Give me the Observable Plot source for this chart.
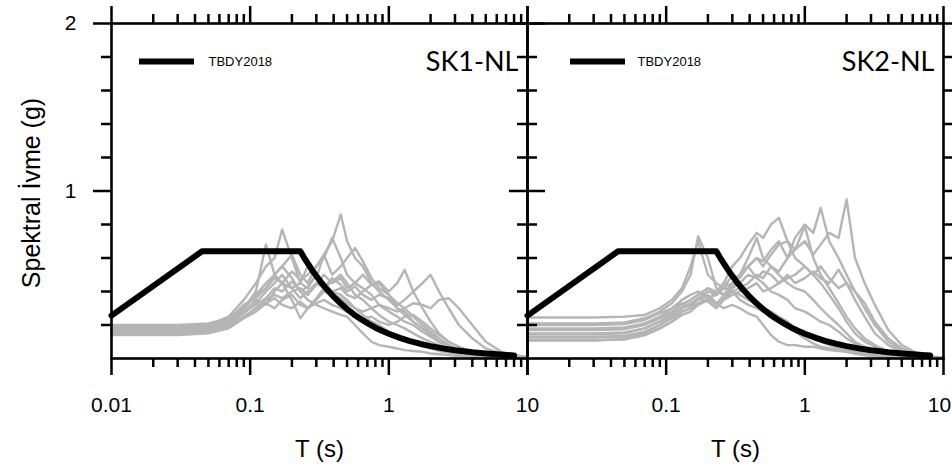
<!DOCTYPE html>
<html><head><meta charset="utf-8">
<script src="https://cdn.jsdelivr.net/npm/d3@7"></script>
<script src="https://cdn.jsdelivr.net/npm/@observablehq/plot@0.6"></script>
<style>body{margin:0;background:#fff;}</style>
</head><body><div id="chart"></div>
<script>
const panels = ["SK1-NL", "SK2-NL"];
const periods = [0.01,0.03,0.05,0.07,0.09,0.11,0.13,0.15,0.17,0.2,0.23,0.26,0.3,0.34,0.39,0.45,0.5,0.57,0.65,0.75,0.85,1,1.15,1.3,1.5,1.75,2,2.3,2.7,3.2,4,5,6.5,8,10];

const sk1Records = [
  [0.17,0.17,0.18,0.22,0.3,0.38,0.42,0.48,0.45,0.52,0.47,0.5,0.55,0.62,0.7,0.86,0.7,0.6,0.55,0.45,0.4,0.35,0.3,0.28,0.22,0.18,0.15,0.1,0.07,0.05,0.03,0.02,0.01,0.01,0.005],
  [0.19,0.19,0.2,0.25,0.35,0.45,0.55,0.6,0.77,0.6,0.45,0.42,0.5,0.45,0.4,0.38,0.35,0.3,0.26,0.22,0.2,0.16,0.13,0.11,0.09,0.07,0.06,0.045,0.035,0.025,0.015,0.01,0.007,0.005,0.004],
  [0.16,0.16,0.17,0.2,0.27,0.33,0.4,0.45,0.5,0.42,0.45,0.55,0.48,0.62,0.5,0.55,0.6,0.66,0.58,0.48,0.42,0.38,0.33,0.3,0.25,0.2,0.16,0.12,0.08,0.05,0.03,0.02,0.01,0.007,0.005],
  [0.15,0.15,0.16,0.19,0.25,0.3,0.35,0.38,0.36,0.4,0.42,0.38,0.44,0.5,0.45,0.48,0.42,0.45,0.5,0.44,0.46,0.4,0.45,0.53,0.4,0.3,0.22,0.15,0.1,0.07,0.04,0.025,0.015,0.01,0.006],
  [0.18,0.18,0.19,0.22,0.28,0.35,0.32,0.4,0.45,0.42,0.36,0.4,0.45,0.42,0.48,0.44,0.4,0.43,0.38,0.35,0.38,0.36,0.32,0.35,0.4,0.45,0.5,0.4,0.3,0.2,0.12,0.06,0.03,0.02,0.01],
  [0.14,0.14,0.15,0.18,0.24,0.28,0.33,0.3,0.35,0.38,0.32,0.3,0.35,0.4,0.38,0.36,0.33,0.3,0.28,0.3,0.32,0.3,0.28,0.3,0.33,0.32,0.3,0.35,0.36,0.3,0.2,0.1,0.04,0.02,0.01],
  [0.2,0.2,0.21,0.24,0.3,0.38,0.45,0.5,0.55,0.48,0.4,0.35,0.32,0.3,0.28,0.26,0.25,0.2,0.15,0.1,0.08,0.07,0.06,0.05,0.045,0.04,0.03,0.025,0.02,0.015,0.01,0.007,0.005,0.004,0.003],
  [0.16,0.16,0.17,0.21,0.3,0.4,0.68,0.5,0.45,0.35,0.24,0.3,0.36,0.42,0.46,0.5,0.45,0.38,0.35,0.3,0.26,0.22,0.2,0.18,0.15,0.12,0.1,0.08,0.06,0.04,0.025,0.015,0.01,0.007,0.005],
  [0.18,0.18,0.19,0.23,0.32,0.36,0.42,0.5,0.55,0.62,0.5,0.45,0.55,0.6,0.72,0.6,0.5,0.45,0.42,0.38,0.32,0.28,0.25,0.22,0.2,0.16,0.13,0.1,0.07,0.05,0.03,0.02,0.01,0.008,0.005],
  [0.17,0.17,0.18,0.21,0.28,0.32,0.36,0.42,0.4,0.46,0.4,0.43,0.5,0.45,0.4,0.42,0.38,0.36,0.4,0.44,0.45,0.38,0.3,0.26,0.22,0.18,0.14,0.1,0.08,0.05,0.03,0.02,0.012,0.008,0.005],
  [0.15,0.15,0.16,0.19,0.25,0.3,0.33,0.36,0.32,0.3,0.34,0.3,0.33,0.35,0.32,0.3,0.28,0.26,0.24,0.25,0.22,0.2,0.22,0.25,0.26,0.22,0.18,0.14,0.1,0.07,0.04,0.025,0.015,0.01,0.006]
];

const sk2Records = [
  [0.125,0.125,0.13,0.15,0.2,0.25,0.3,0.32,0.35,0.38,0.33,0.36,0.4,0.42,0.45,0.5,0.48,0.55,0.52,0.6,0.65,0.7,0.62,0.68,0.75,0.72,0.95,0.6,0.45,0.32,0.17,0.08,0.03,0.012,0.006],
  [0.107,0.107,0.115,0.14,0.18,0.22,0.28,0.3,0.33,0.36,0.32,0.38,0.42,0.5,0.55,0.6,0.58,0.65,0.7,0.6,0.72,0.8,0.75,0.9,0.7,0.6,0.5,0.4,0.3,0.2,0.1,0.05,0.02,0.01,0.005],
  [0.15,0.15,0.155,0.18,0.22,0.27,0.32,0.35,0.38,0.42,0.38,0.45,0.55,0.6,0.68,0.75,0.72,0.8,0.84,0.7,0.6,0.55,0.5,0.45,0.38,0.3,0.22,0.15,0.1,0.07,0.04,0.02,0.01,0.007,0.004],
  [0.21,0.21,0.215,0.24,0.28,0.33,0.4,0.5,0.73,0.6,0.42,0.38,0.4,0.35,0.32,0.3,0.28,0.26,0.25,0.22,0.18,0.15,0.12,0.1,0.08,0.06,0.05,0.04,0.03,0.02,0.012,0.008,0.005,0.004,0.003],
  [0.245,0.245,0.25,0.26,0.3,0.35,0.42,0.55,0.7,0.5,0.45,0.42,0.45,0.5,0.55,0.48,0.45,0.4,0.38,0.35,0.3,0.28,0.25,0.22,0.2,0.16,0.12,0.09,0.06,0.04,0.025,0.015,0.01,0.006,0.004],
  [0.18,0.18,0.185,0.21,0.25,0.3,0.33,0.3,0.36,0.4,0.38,0.42,0.5,0.48,0.55,0.6,0.55,0.62,0.68,0.7,0.65,0.79,0.6,0.5,0.42,0.33,0.25,0.18,0.12,0.08,0.04,0.02,0.01,0.007,0.004],
  [0.13,0.13,0.135,0.16,0.2,0.24,0.28,0.3,0.32,0.35,0.4,0.38,0.45,0.5,0.6,0.72,0.6,0.55,0.5,0.45,0.42,0.4,0.35,0.3,0.25,0.2,0.15,0.1,0.07,0.05,0.03,0.015,0.008,0.005,0.003],
  [0.145,0.145,0.15,0.18,0.22,0.26,0.3,0.33,0.36,0.34,0.3,0.35,0.38,0.4,0.42,0.45,0.4,0.42,0.45,0.5,0.45,0.48,0.52,0.48,0.45,0.53,0.45,0.4,0.33,0.22,0.12,0.06,0.025,0.012,0.006],
  [0.11,0.11,0.115,0.14,0.18,0.22,0.26,0.28,0.32,0.35,0.33,0.3,0.32,0.3,0.27,0.25,0.2,0.14,0.1,0.08,0.08,0.07,0.07,0.06,0.05,0.045,0.04,0.03,0.02,0.015,0.01,0.006,0.004,0.003,0.002],
  [0.2,0.2,0.205,0.23,0.27,0.3,0.35,0.38,0.4,0.36,0.38,0.42,0.4,0.38,0.35,0.32,0.3,0.28,0.25,0.2,0.16,0.12,0.09,0.07,0.06,0.05,0.04,0.03,0.02,0.015,0.01,0.006,0.004,0.003,0.002],
  [0.17,0.17,0.175,0.2,0.24,0.28,0.32,0.35,0.38,0.42,0.4,0.45,0.42,0.45,0.5,0.48,0.52,0.5,0.45,0.48,0.5,0.55,0.5,0.55,0.48,0.42,0.45,0.35,0.25,0.15,0.08,0.04,0.02,0.01,0.005]
];

const designT  = [0.01,0.045,0.23,0.25,0.28,0.32,0.36,0.4,0.45,0.5,0.56,0.63,0.71,0.8,0.9,1,1.2,1.4,1.7,2,2.5,3,4,5,6,7,8];
const designSa = [0.256,0.64,0.64,0.59,0.527,0.461,0.41,0.369,0.328,0.295,0.263,0.234,0.208,0.184,0.164,0.148,0.123,0.105,0.087,0.074,0.059,0.049,0.037,0.03,0.025,0.021,0.018];

const legendLabel = "TBDY2018";
const xTickValues = [0.01, 0.1, 1, 10];
const xTickLabels = ["0.01", "0.1", "1", "10"];
const yMajorTicks = [1, 2];
const yTickLabels = ["1", "2"];
const yMinorTicks = [0.2, 0.4, 0.6, 0.8, 1.2, 1.4, 1.6, 1.8];
const xTitle = "T (s)";
const yTitle = "Spektral İvme (g)";

// tables
const records = [];
[sk1Records, sk2Records].forEach((set, p) => {
  set.forEach((vals, i) => {
    vals.forEach((v, j) => records.push({panel: panels[p], rec: panels[p] + "-" + i, T: periods[j], Sa: v}));
  });
});
const design = panels.flatMap(panel => designT.map((t, i) => ({panel, T: t, Sa: designSa[i]})));
const xLabelRows = panels.flatMap((panel, p) =>
  xTickValues.map((t, i) => ({panel, T: t, label: xTickLabels[i]})).filter(d => !(p > 0 && d.T === 0.01)));
const xLabelMain = xLabelRows.filter(d => !(d.panel === panels[1] && d.T === 10));
const xLabelEdge = xLabelRows.filter(d => d.panel === panels[1] && d.T === 10);
const yLabelRows = yMajorTicks.map((v, i) => ({panel: panels[0], v, label: yTickLabels[i]}));
const xMinor = [0.01, 0.1, 1].flatMap(d => [2,3,4,5,6,7,8,9].map(k => +(d * k).toPrecision(3)));
const panelRows = panels.map(panel => ({panel}));

// layout constants (pixels)
const W = 952, H = 471, mL = 111, mR = 9, mT = 23, mB = 113;
const frameH = H - mT - mB;          // 335
const facetW = (W - mL - mR) / 2;    // 416

const swatch = {draw(ctx) { ctx.rect(-27.5, -3, 55, 6); }};
const font = "'Liberation Sans', Arial, sans-serif";
const tk = {stroke: "#000", strokeWidth: 2.5};

const chart = Plot.plot({
  width: W,
  height: H,
  marginLeft: mL,
  marginRight: mR,
  marginTop: mT,
  marginBottom: mB,
  style: {fontFamily: font, background: "#fff", color: "#000"},
  fx: {domain: panels, padding: 0, axis: null},
  x: {type: "log", domain: [0.01, 10], axis: null},
  y: {domain: [0, 2], axis: null},
  marks: [
    Plot.line(records, {x: "T", y: "Sa", z: "rec", fx: "panel", stroke: "#b5b5b5", strokeWidth: 2.4}),
    Plot.line(design, {x: "T", y: "Sa", fx: "panel", stroke: "#000", strokeWidth: 6}),
    Plot.frame({stroke: "#000", strokeWidth: 2.6}),
    // x ticks (bottom / top)
    Plot.ruleX(xTickValues, {...tk, insetTop: frameH, insetBottom: -17}),
    Plot.ruleX(xMinor, {...tk, insetTop: frameH, insetBottom: -9}),
    Plot.ruleX(xTickValues, {...tk, insetTop: -17, insetBottom: frameH}),
    Plot.ruleX(xMinor, {...tk, insetTop: -9, insetBottom: frameH}),
    // y ticks (left / right of each panel)
    Plot.ruleY(yMajorTicks, {...tk, insetLeft: -18, insetRight: facetW}),
    Plot.ruleY(yMinorTicks, {...tk, insetLeft: -10, insetRight: facetW}),
    Plot.ruleY(yMajorTicks, {...tk, insetLeft: facetW, insetRight: -18}),
    Plot.ruleY(yMinorTicks, {...tk, insetLeft: facetW, insetRight: -10}),
    // labels
    Plot.text(yLabelRows, {y: "v", text: "label", fx: "panel", frameAnchor: "left", dx: -41, lineAnchor: "middle", textAnchor: "middle", fontSize: 21}),
    Plot.text(xLabelMain, {x: "T", text: "label", fx: "panel", frameAnchor: "bottom", dy: 47, lineAnchor: "middle", fontSize: 21}),
    Plot.text(xLabelEdge, {x: "T", text: "label", fx: "panel", frameAnchor: "bottom", dy: 47, dx: -4, lineAnchor: "middle", fontSize: 21}),
    Plot.text(panelRows, {fx: "panel", text: () => xTitle, frameAnchor: "bottom", dy: 91, lineAnchor: "middle", fontSize: 24}),
    Plot.text([{panel: panels[0]}], {fx: "panel", text: () => yTitle, frameAnchor: "left", dx: -80, dy: 2, rotate: -90, lineAnchor: "middle", textAnchor: "middle", fontSize: 25}),
    Plot.text(panelRows, {fx: "panel", text: "panel", frameAnchor: "top-right", dx: -9, dy: 39, lineAnchor: "middle", textAnchor: "end", fontSize: 27, fontFamily: "Lato, 'Open Sans', sans-serif"}),
    // legend
    Plot.dot([panelRows[0]], {fx: "panel", frameAnchor: "top-left", dx: 55, dy: 38, symbol: swatch, fill: "#000"}),
    Plot.dot([panelRows[1]], {fx: "panel", frameAnchor: "top-left", dx: 70, dy: 38, symbol: swatch, fill: "#000"}),
    Plot.text([panelRows[0]], {fx: "panel", text: () => legendLabel, frameAnchor: "top-left", dx: 97, dy: 38, lineAnchor: "middle", textAnchor: "start", fontSize: 13}),
    Plot.text([panelRows[1]], {fx: "panel", text: () => legendLabel, frameAnchor: "top-left", dx: 110, dy: 38, lineAnchor: "middle", textAnchor: "start", fontSize: 13})
  ]
});
document.getElementById("chart").appendChild(chart);
</script>
</body></html>
